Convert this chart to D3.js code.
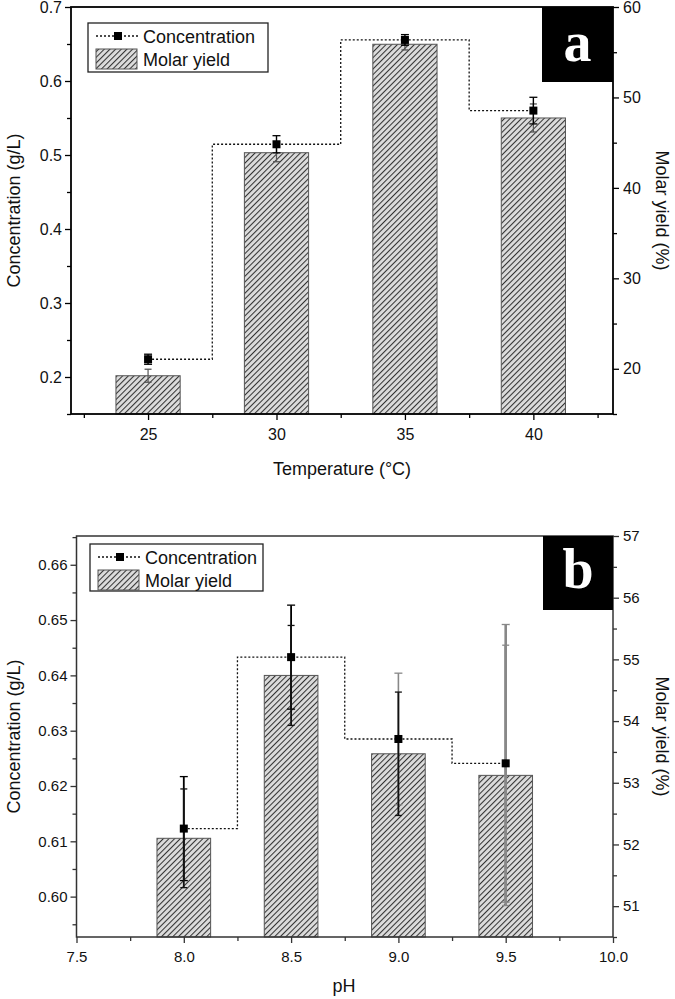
<!DOCTYPE html>
<html><head><meta charset="utf-8">
<script src="https://cdn.jsdelivr.net/npm/d3@7"></script>
<style>body{margin:0;background:#fff} svg{display:block;font-family:"Liberation Sans",Arial,sans-serif}</style>
</head><body><svg id="c" width="675" height="999"></svg>
<script>
// ---------- data ----------
const tempCategories = [25, 30, 35, 40];
const tempConc = [0.2240, 0.5145, 0.6555, 0.5600];
const tempConcErr = [0.0068, 0.0116, 0.0072, 0.0180];
const tempYield = [19.23, 43.89, 55.88, 47.73];
const tempYieldErr = [0.72, 1.00, 0.63, 1.55];
const tempXTicks = [25, 30, 35, 40];
const tempConcTicks = [0.2, 0.3, 0.4, 0.5, 0.6, 0.7];
const tempYieldTicks = [20, 30, 40, 50, 60];

const phCategories = [8.0, 8.5, 9.0, 9.5];
const phConc = [0.6123, 0.6433, 0.6285, 0.6241];
const phConcErr = [0.0094, 0.0094, 0.0119, 0.0251];
const phYield = [52.10, 54.74, 53.47, 53.12];
const phYieldErr = [0.80, 0.81, 1.00, 2.11];
const phXTicks = [7.5, 8.0, 8.5, 9.0, 9.5, 10.0];
const phConcTicks = [0.60, 0.61, 0.62, 0.63, 0.64, 0.65, 0.66];
const phYieldTicks = [51, 52, 53, 54, 55, 56, 57];

const legendLabels = ["Concentration", "Molar yield"];
const axisTitles = {conc: "Concentration (g/L)", yield: "Molar yield (%)", temp: "Temperature (°C)", ph: "pH"};

// ---------- drawing ----------
const svg = d3.select("#c");
const defs = svg.append("defs");
const pat = defs.append("pattern").attr("id", "hatch").attr("patternUnits", "userSpaceOnUse")
  .attr("width", 4).attr("height", 4).attr("patternTransform", "rotate(45)");
pat.append("rect").attr("width", 4).attr("height", 4).attr("fill", "#dcdcdc");
pat.append("line").attr("x1", 0.5).attr("y1", 0).attr("x2", 0.5).attr("y2", 4)
  .attr("stroke", "#333").attr("stroke-width", 1.1);

function minorBetween(ticks, lo, hi) {
  const step = ticks[1] - ticks[0];
  const out = [];
  for (let i = -1; i < ticks.length; i++) {
    const v = ticks[0] + (i + 0.5) * step;
    if (v >= lo - 1e-9 && v <= hi + 1e-9) out.push(v);
  }
  return out;
}

function panel(cfg) {
  const {L, R, T, B} = cfg;
  const g = svg.append("g");
  const x = d3.scaleLinear().domain(cfg.xDomain).range([L, R]);
  const yL = d3.scaleLinear().domain(cfg.concDomain).range([B, T]);
  const yR = d3.scaleLinear().domain(cfg.yieldDomain).range([B, T]);
  const cats = cfg.cats;

  // bars
  g.selectAll(".bar").data(cats).enter().append("rect")
    .attr("x", d => x(d - cfg.barW / 2))
    .attr("width", d => x(d + cfg.barW / 2) - x(d - cfg.barW / 2))
    .attr("y", (d, i) => yR(cfg.yield[i]))
    .attr("height", (d, i) => B - yR(cfg.yield[i]))
    .attr("fill", "url(#hatch)").attr("stroke", "#555").attr("stroke-width", 1);

  // step line
  const line = d3.line().x((d, i) => x(cats[i])).y(d => yL(d)).curve(d3.curveStep);
  g.append("path").datum(cfg.conc).attr("d", line).attr("fill", "none")
    .attr("stroke", "#111").attr("stroke-width", 1.3).attr("stroke-dasharray", "2,2");

  function errBars(vals, errs, scale, cols, widths, capHalf) {
    cats.forEach((c, i) => {
      const cx = x(c), y1 = scale(vals[i] - errs[i]), y2 = scale(vals[i] + errs[i]);
      g.append("line").attr("x1", cx).attr("x2", cx).attr("y1", y1).attr("y2", y2)
        .attr("stroke", cols[i]).attr("stroke-width", widths[i]);
      [y1, y2].forEach(yy => g.append("line").attr("x1", cx - capHalf).attr("x2", cx + capHalf)
        .attr("y1", yy).attr("y2", yy).attr("stroke", cols[i]).attr("stroke-width", 1.3));
    });
  }
  if (cfg.yieldFirst) {
    errBars(cfg.yield, cfg.yieldErr, yR, cfg.yErrColor, cfg.yErrW, 3.5);
    errBars(cfg.conc, cfg.concErr, yL, cfg.cErrColor, cfg.cErrW, 4);
  } else {
    errBars(cfg.conc, cfg.concErr, yL, cfg.cErrColor, cfg.cErrW, 4);
    errBars(cfg.yield, cfg.yieldErr, yR, cfg.yErrColor, cfg.yErrW, 3.5);
  }

  // markers
  g.selectAll(".mk").data(cats).enter().append("rect")
    .attr("x", d => x(d) - 4).attr("y", (d, i) => yL(cfg.conc[i]) - 4)
    .attr("width", 8).attr("height", 8).attr("fill", "#000");

  // frame
  g.append("rect").attr("x", L).attr("y", T).attr("width", R - L).attr("height", B - T)
    .attr("fill", "none").attr("stroke", cfg.axisCol).attr("stroke-width", cfg.axisW);

  const fs = cfg.tickFont;
  function styleAxis(sel) {
    sel.select(".domain").remove();
    sel.selectAll("line").attr("stroke", cfg.axisCol).attr("stroke-width", 1.3);
    sel.selectAll("text").attr("font-size", fs).attr("font-family", "Liberation Sans, Arial, sans-serif").attr("fill", "#111");
  }
  const xMin = minorBetween(cfg.xTicks, cfg.xDomain[0], cfg.xDomain[1]);
  const lMin = minorBetween(cfg.concTicks, cfg.concDomain[0], cfg.concDomain[1]);
  const rMin = minorBetween(cfg.yieldTicks, cfg.yieldDomain[0], cfg.yieldDomain[1]);

  g.append("g").attr("transform", `translate(0,${B})`)
    .call(d3.axisBottom(x).tickValues(cfg.xTicks).tickSize(6).tickPadding(cfg.xPad).tickFormat(cfg.xFmt)).call(styleAxis);
  g.append("g").attr("transform", `translate(0,${B})`)
    .call(d3.axisBottom(x).tickValues(xMin).tickSize(4).tickFormat("")).call(styleAxis);
  g.append("g").attr("transform", `translate(${L},0)`)
    .call(d3.axisLeft(yL).tickValues(cfg.concTicks).tickSize(6).tickPadding(3).tickFormat(cfg.lFmt)).call(styleAxis);
  g.append("g").attr("transform", `translate(${L},0)`)
    .call(d3.axisLeft(yL).tickValues(lMin).tickSize(4).tickFormat("")).call(styleAxis);
  g.append("g").attr("transform", `translate(${R},0)`)
    .call(d3.axisRight(yR).tickValues(cfg.yieldTicks).tickSize(6).tickPadding(4).tickFormat(d3.format("d"))).call(styleAxis);
  g.append("g").attr("transform", `translate(${R},0)`)
    .call(d3.axisRight(yR).tickValues(rMin).tickSize(4).tickFormat("")).call(styleAxis);

  // axis titles
  const mid = (T + B) / 2;
  g.append("text").attr("transform", `translate(20,${mid}) rotate(-90)`).attr("text-anchor", "middle")
    .attr("font-size", 18).attr("fill", "#111").text(axisTitles.conc);
  g.append("text").attr("transform", `translate(656,${mid}) rotate(90)`).attr("text-anchor", "middle")
    .attr("font-size", 18).attr("fill", "#111").text(axisTitles.yield);
  g.append("text").attr("x", cfg.xTitleX).attr("y", cfg.xTitleY).attr("text-anchor", "middle")
    .attr("font-size", 18).attr("fill", "#111").text(cfg.xTitle);

  // legend
  const lg = cfg.legend;
  g.append("rect").attr("x", lg.x).attr("y", lg.y).attr("width", lg.w).attr("height", lg.h)
    .attr("fill", "#fff").attr("stroke", "#222").attr("stroke-width", 1.3);
  const ly1 = lg.y + 13;
  g.append("line").attr("x1", lg.x + 8).attr("x2", lg.x + 52).attr("y1", ly1).attr("y2", ly1)
    .attr("stroke", "#111").attr("stroke-width", 1.3).attr("stroke-dasharray", "2,2");
  g.append("rect").attr("x", lg.x + 26).attr("y", ly1 - 4).attr("width", 8).attr("height", 8).attr("fill", "#000");
  g.append("text").attr("x", lg.x + 55).attr("y", ly1 + 6.5).attr("font-size", 18).attr("fill", "#111").text(legendLabels[0]);
  g.append("rect").attr("x", lg.x + 8).attr("y", lg.y + 26).attr("width", 41).attr("height", 20)
    .attr("fill", "url(#hatch)").attr("stroke", "#555").attr("stroke-width", 1);
  g.append("text").attr("x", lg.x + 55).attr("y", lg.y + 43).attr("font-size", 18).attr("fill", "#111").text(legendLabels[1]);

  // panel letter
  const bx = cfg.box;
  g.append("rect").attr("x", bx.x).attr("y", T).attr("width", R - bx.x).attr("height", bx.h).attr("fill", "#000");
  g.append("text").attr("x", (bx.x + R) / 2).attr("y", T + bx.base).attr("text-anchor", "middle")
    .attr("font-family", "Liberation Serif, Times New Roman, serif").attr("font-weight", "bold")
    .attr("font-size", 56).attr("fill", "#fff").text(cfg.letter);
}

panel({
  L: 71, R: 613, T: 7, B: 414,
  xDomain: [22, 43.1], concDomain: [0.15, 0.7], yieldDomain: [15, 60],
  cats: tempCategories, conc: tempConc, concErr: tempConcErr, yield: tempYield, yieldErr: tempYieldErr,
  xTicks: tempXTicks, concTicks: tempConcTicks, yieldTicks: tempYieldTicks,
  barW: 2.5, xFmt: d3.format("d"), lFmt: d3.format(".1f"), xPad: 9, tickFont: 16,
  yieldFirst: true,
  yErrColor: ["#555", "#555", "#555", "#555"], yErrW: [1.2, 1.2, 1.2, 1.2],
  cErrColor: ["#000", "#000", "#000", "#000"], cErrW: [1.4, 1.4, 1.4, 1.4],
  axisCol: "#000", axisW: 1.8,
  xTitle: axisTitles.temp, xTitleX: 342, xTitleY: 475,
  legend: {x: 88, y: 23, w: 180, h: 49},
  box: {x: 542, h: 75, base: 54}, letter: "a"
});

panel({
  L: 76.5, R: 613, T: 536, B: 937,
  xDomain: [7.5, 10.0], concDomain: [0.5927, 0.6652], yieldDomain: [50.5, 57],
  cats: phCategories, conc: phConc, concErr: phConcErr, yield: phYield, yieldErr: phYieldErr,
  xTicks: phXTicks, concTicks: phConcTicks, yieldTicks: phYieldTicks,
  barW: 0.25, xFmt: d3.format(".1f"), lFmt: d3.format(".2f"), xPad: 8, tickFont: 15,
  yieldFirst: false,
  yErrColor: ["#111", "#111", "#111", "#888"], yErrW: [1.8, 1.8, 1.8, 2.6],
  cErrColor: ["#000", "#000", "#888", "#888"], cErrW: [1.8, 1.8, 1.6, 2.6],
  axisCol: "#333", axisW: 1.5,
  xTitle: axisTitles.ph, xTitleX: 344, xTitleY: 992,
  legend: {x: 90, y: 544, w: 173, h: 47},
  box: {x: 543, h: 74, base: 52}, letter: "b"
});
</script></body></html>
